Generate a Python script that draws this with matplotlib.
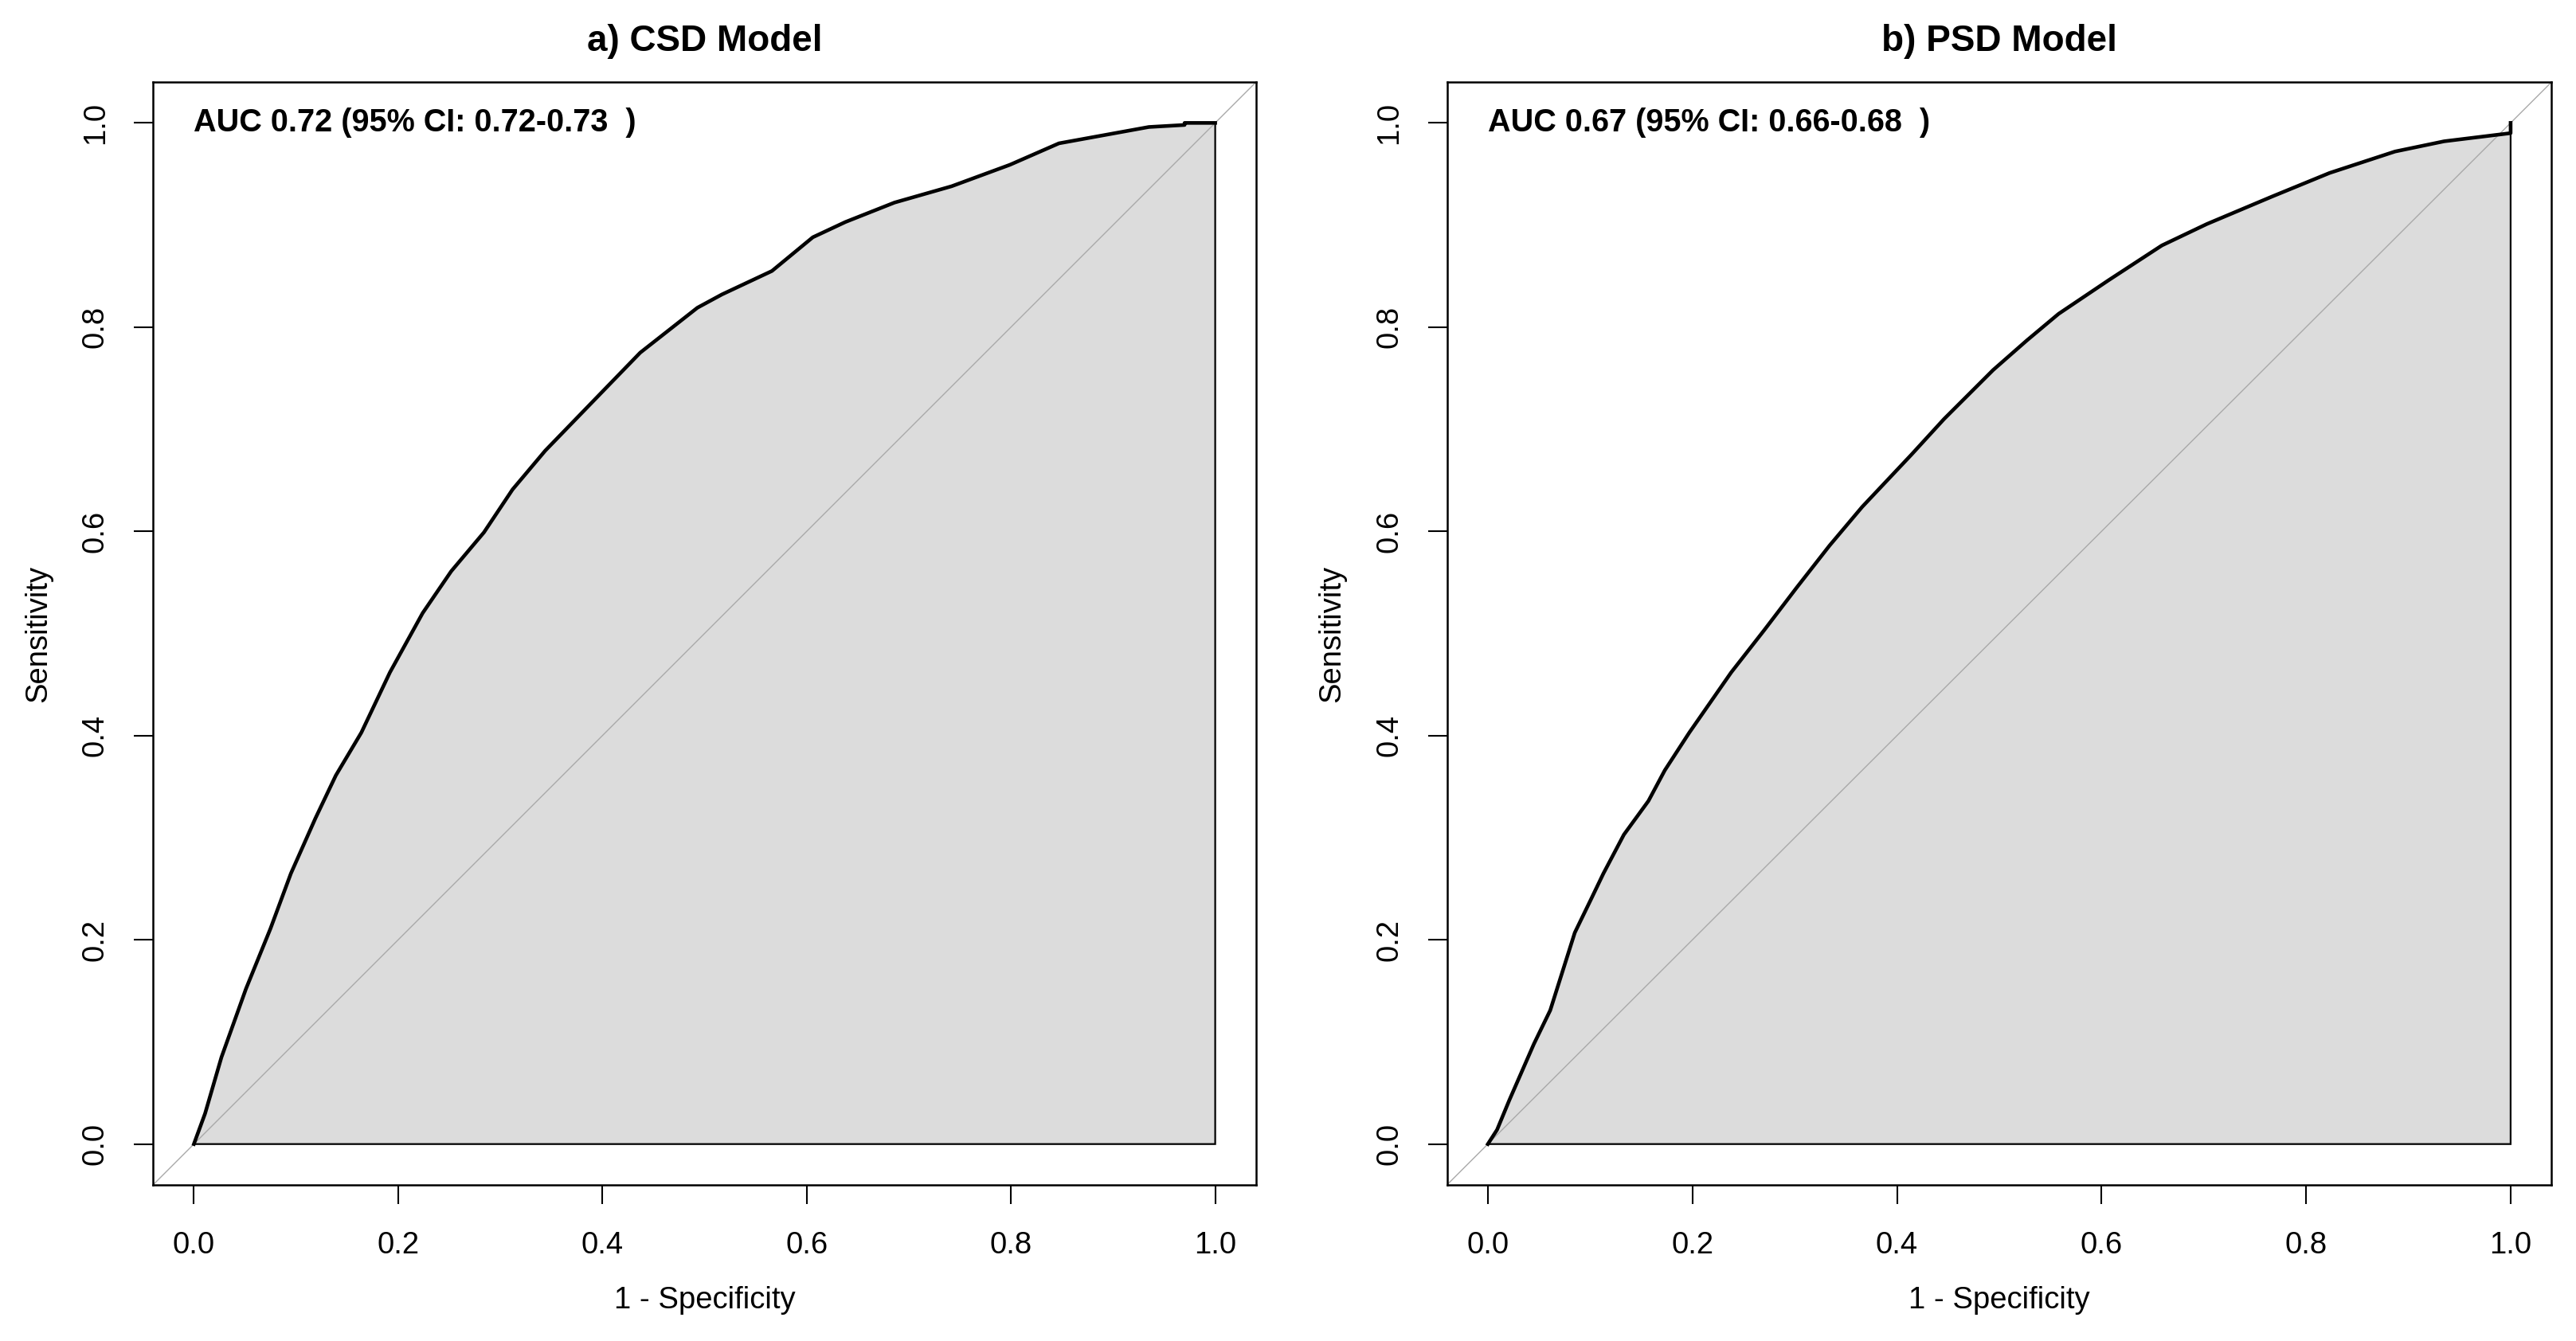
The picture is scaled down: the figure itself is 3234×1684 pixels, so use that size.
import numpy as np
import matplotlib
matplotlib.use("Agg")
from matplotlib import pyplot as plt

plt.rcParams['font.family'] = ['Liberation Sans', 'DejaVu Sans']

# ROC points (1 - specificity, sensitivity)
csd_fpr = [0.0, 0.011, 0.027, 0.051, 0.075, 0.095, 0.119, 0.139, 0.164, 0.192,
           0.224, 0.252, 0.284, 0.312, 0.344, 0.405, 0.437, 0.493, 0.517, 0.566,
           0.606, 0.638, 0.686, 0.742, 0.799, 0.847, 0.935, 0.97, 0.97, 1.0]
csd_tpr = [0.0, 0.030, 0.085, 0.152, 0.211, 0.265, 0.319, 0.361, 0.403, 0.462,
           0.520, 0.561, 0.599, 0.641, 0.679, 0.742, 0.775, 0.819, 0.832, 0.855,
           0.888, 0.903, 0.922, 0.938, 0.959, 0.980, 0.996, 0.998, 1.0, 1.0]

psd_fpr = [0.0, 0.009, 0.021, 0.045, 0.061, 0.085, 0.101, 0.113, 0.133, 0.157,
           0.173, 0.197, 0.238, 0.270, 0.302, 0.334, 0.366, 0.414, 0.446, 0.494,
           0.527, 0.558, 0.607, 0.659, 0.703, 0.767, 0.823, 0.887, 0.935, 0.992,
           1.0, 1.0]
psd_tpr = [0.0, 0.014, 0.043, 0.098, 0.131, 0.207, 0.240, 0.265, 0.303, 0.336,
           0.366, 0.403, 0.462, 0.503, 0.545, 0.586, 0.624, 0.675, 0.710, 0.758,
           0.787, 0.813, 0.846, 0.880, 0.901, 0.928, 0.951, 0.972, 0.982, 0.989,
           0.990, 1.0]

titles = ['a) CSD Model', 'b) PSD Model']
auc_text = ['AUC 0.72 (95% CI: 0.72-0.73  )', 'AUC 0.67 (95% CI: 0.66-0.68  )']
ticks = [0.0, 0.2, 0.4, 0.6, 0.8, 1.0]

fig = plt.figure(figsize=(32.34, 16.84), dpi=100)
ax1 = fig.add_axes([0.0594, 0.1164, 0.4282, 0.8224])
ax2 = fig.add_axes([0.5617, 0.1164, 0.4288, 0.8224])

for ax, fpr, tpr, ttl, txt in zip([ax1, ax2], [csd_fpr, psd_fpr], [csd_tpr, psd_tpr], titles, auc_text):
    fpr = np.array(fpr)
    tpr = np.array(tpr)
    # shaded area under the curve
    px = np.concatenate([fpr, [1.0, 0.0]])
    py = np.concatenate([tpr, [0.0, 0.0]])
    ax.fill(px, py, facecolor='#DCDCDC', edgecolor='black', linewidth=1.6, zorder=1)
    ax.axline((0, 0), (1, 1), color='darkgrey', linewidth=1.0, zorder=2)
    ax.plot(fpr, tpr, color='black', linewidth=3.3, zorder=3)

    ax.set_xlim(-0.04, 1.04)
    ax.set_ylim(-0.04, 1.04)
    ax.set_xticks(ticks)
    ax.set_yticks(ticks)
    ax.set_xticklabels(['%.1f' % t for t in ticks])
    ax.set_yticklabels(['%.1f' % t for t in ticks], rotation=90, va='center')
    ax.tick_params(direction='out', length=17, width=1.5, labelsize=27.5)
    ax.tick_params(axis='x', pad=25)
    ax.tick_params(axis='y', pad=22)
    for s in ax.spines.values():
        s.set_linewidth(1.8)

    ax.set_title(ttl, fontsize=33, fontweight='bold', pad=28)
    ax.set_xlabel('1 - Specificity', fontsize=27.5)
    ax.set_ylabel('Sensitivity', fontsize=27.5)
    ax.xaxis.set_label_coords(0.5, -0.092)
    ax.yaxis.set_label_coords(-0.091, 0.5)
    ax.text(0.0, 1.0, txt, fontsize=28.5, fontweight='bold', ha='left', va='center')

fig.savefig('out.png', dpi=100)
